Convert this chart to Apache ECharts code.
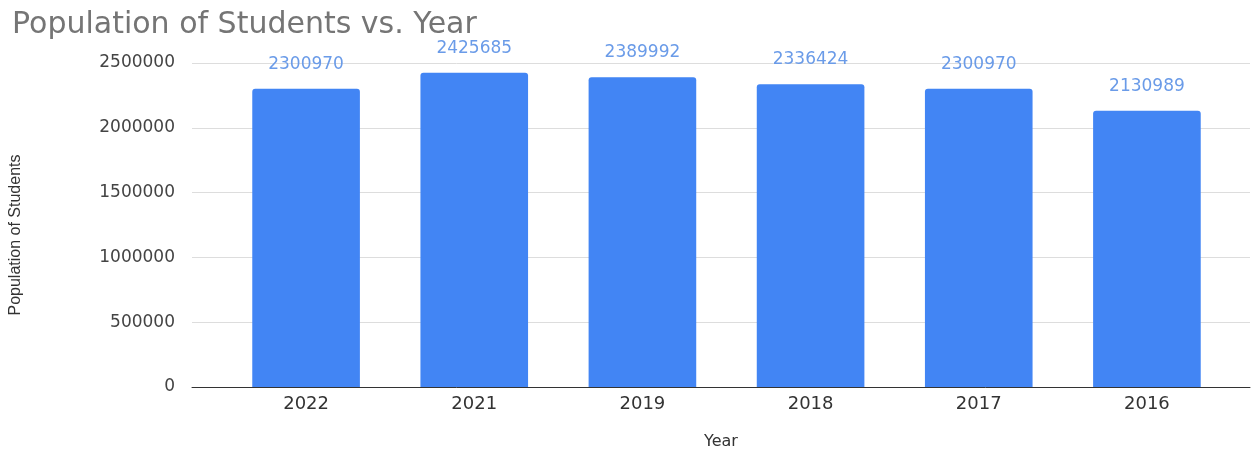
<!DOCTYPE html>
<html>
<head>
<meta charset="utf-8">
<script src="https://cdn.jsdelivr.net/npm/echarts@6/dist/echarts.min.js"></script>
<style>
  html, body { margin: 0; padding: 0; background: #ffffff; }
  #chart { width: 1252px; height: 450px; }
</style>
</head>
<body>
<div id="chart"></div>
<script>
const titleText = 'Population of Students vs. Year';
const categories = ['2022', '2021', '2019', '2018', '2017', '2016'];
const populations = [2300970, 2425685, 2389992, 2336424, 2300970, 2130989];
const xAxisName = 'Year';
const yAxisName = 'Population of Students';
const yMin = 0;
const yMax = 2500000;
const yInterval = 500000;

const chart = echarts.init(document.getElementById('chart'), null, { renderer: 'canvas' });

const option = {
  animation: false,
  backgroundColor: '#ffffff',
  title: {
    text: titleText,
    left: 7,
    top: 5,
    textStyle: {
      fontFamily: 'DejaVu Sans',
      fontSize: 30,
      fontWeight: 'normal',
      color: '#757575'
    }
  },
  grid: [
    { left: 192, right: 2, top: 63, bottom: 63, outerBoundsMode: 'none', containLabel: false },
    { left: 222, right: 21, top: 63, bottom: 63, outerBoundsMode: 'none', containLabel: false }
  ],
  xAxis: [
    {
      type: 'category',
      gridIndex: 0,
      data: categories,
      axisLine: { show: true, lineStyle: { color: '#333333', width: 1 } },
      axisTick: { show: false },
      axisLabel: { show: false },
      name: xAxisName,
      nameLocation: 'middle',
      nameGap: 47,
      nameTextStyle: { fontFamily: 'DejaVu Sans', fontSize: 16, color: '#333333' }
    },
    {
      type: 'category',
      gridIndex: 1,
      data: categories,
      axisLine: { show: false },
      axisTick: { show: false },
      axisLabel: {
        margin: 8,
        fontFamily: 'DejaVu Sans',
        fontSize: 18,
        color: '#333333'
      }
    }
  ],
  yAxis: [
    {
      type: 'value',
      gridIndex: 0,
      min: yMin,
      max: yMax,
      interval: yInterval,
      axisLine: { show: false },
      axisTick: { show: false },
      splitLine: { show: true, lineStyle: { color: '#dddddd', width: 1 } },
      axisLabel: {
        margin: 17,
        fontFamily: 'DejaVu Sans',
        fontSize: 17,
        color: '#444444',
        formatter: function (v) { return String(v); }
      },
      name: yAxisName,
      nameLocation: 'middle',
      nameGap: 168,
      nameRotate: 90,
      nameTextStyle: { fontFamily: 'Liberation Sans', fontSize: 16, color: '#333333', padding: [0, 20, 0, 0] }
    },
    {
      type: 'value',
      gridIndex: 1,
      min: yMin,
      max: yMax,
      interval: yInterval,
      show: false,
      splitLine: { show: false }
    }
  ],
  series: [
    {
      type: 'bar',
      xAxisIndex: 1,
      yAxisIndex: 1,
      data: populations,
      barCategoryGap: '36%',
      itemStyle: { color: '#4285f4', borderRadius: [3, 3, 0, 0] },
      label: {
        show: true,
        position: 'top',
        distance: 16,
        fontFamily: 'DejaVu Sans',
        fontSize: 17,
        color: '#6a9be8'
      }
    }
  ]
};

chart.setOption(option);
</script>
</body>
</html>
